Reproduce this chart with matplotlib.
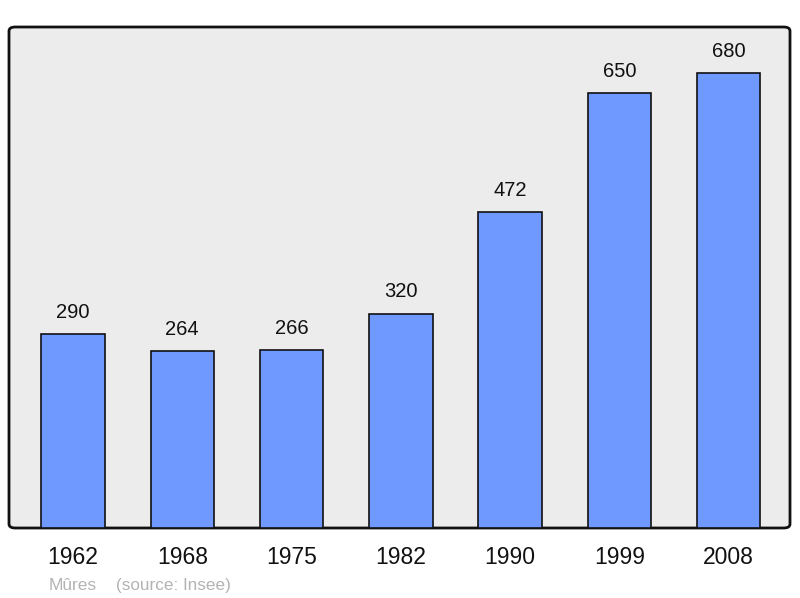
import matplotlib
matplotlib.use("Agg")
import matplotlib.pyplot as plt
from matplotlib.patches import FancyBboxPatch

years = ["1962", "1968", "1975", "1982", "1990", "1999", "2008"]
population = [290, 264, 266, 320, 472, 650, 680]

plt.rcParams["font.family"] = ["Liberation Sans", "DejaVu Sans"]

fig = plt.figure(figsize=(8.0, 5.98), dpi=100)
ax = fig.add_axes([9 / 800, 1 - 528 / 598, 781 / 800, 501 / 598])
ax.set_xlim(-0.585, 6.56)
ax.set_ylim(0, 749)
ax.axis("off")

panel = FancyBboxPatch((0, 0), 1, 1, boxstyle="round,pad=0,rounding_size=0.008",
                       transform=ax.transAxes, facecolor="#ececec",
                       edgecolor="#111111", linewidth=2, clip_on=False, zorder=0)
ax.add_patch(panel)

x = list(range(len(years)))
ax.bar(x, population, width=0.58, color="#7099ff", edgecolor="#111111",
       linewidth=1.2, zorder=2)

for xi, v in zip(x, population):
    ax.annotate(str(v), (xi, v), xytext=(0, 22), textcoords="offset pixels",
                ha="center", va="center", fontsize=14.5, color="#111111")

for xi, y in zip(x, years):
    ax.annotate(y, (xi, 0), xytext=(0, -29), textcoords="offset pixels",
                ha="center", va="center", fontsize=16.5, color="#111111",
                annotation_clip=False)

fig.text(73 / 800, 1 - 590 / 598, "Mûres", ha="center", va="baseline",
         fontsize=12.5, color="#b3b3b3")
fig.text(116 / 800, 1 - 590 / 598, "(source: Insee)", ha="left", va="baseline",
         fontsize=12.3, color="#b3b3b3")

fig.savefig("out.png", dpi=100, facecolor="white")
